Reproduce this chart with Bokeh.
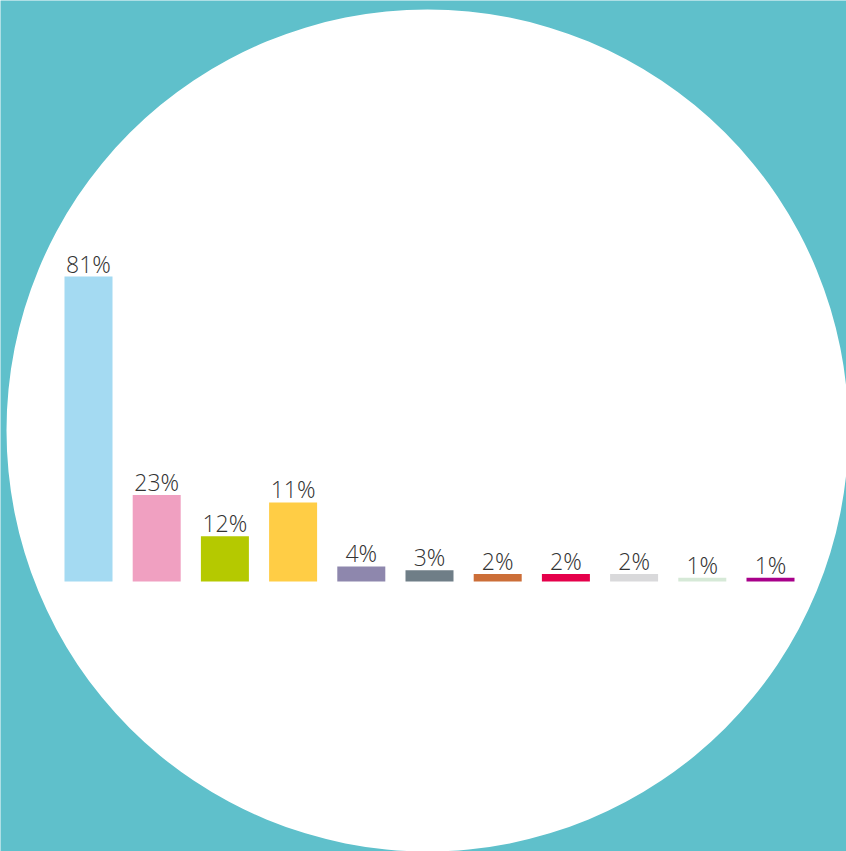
from bokeh.plotting import figure
from bokeh.embed import file_html
from bokeh.resources import INLINE
from bokeh.models import ColumnDataSource, Range1d
from bokeh.core.properties import value

# Data
positions = list(range(11))
bar_values = [81, 23, 12, 21, 4, 3, 2, 2, 2, 1, 1]
bar_labels = ["81%", "23%", "12%", "11%", "4%", "3%", "2%", "2%", "2%", "1%", "1%"]
bar_colors = ["#A4DAF2", "#F0A0C1", "#B5C900", "#FFCD45", "#8E87AD", "#6F7E87",
              "#CC6E38", "#E5004B", "#D9D9DB", "#D6E9D7", "#A8008A"]

W, H = 846, 851
PX_PER_BAR = 68.2
PX_PER_PCT = 3.765
X0_PX = 88.0     # pixel of first bar centre
Y0_PX = 581.0    # pixel of baseline

x_start = (0 - X0_PX) / PX_PER_BAR
x_end = (W - X0_PX) / PX_PER_BAR
y_start = (Y0_PX - H) / PX_PER_PCT
y_end = Y0_PX / PX_PER_PCT

p = figure(width=W, height=H, output_backend="svg", toolbar_location=None,
           x_range=Range1d(x_start, x_end), y_range=Range1d(y_start, y_end),
           min_border=0, background_fill_color="#5FC0CB", border_fill_color="#5FC0CB")
p.axis.visible = False
p.grid.visible = False
p.outline_line_color = None

# White background circle
cx = (427 - X0_PX) / PX_PER_BAR
cy = (Y0_PX - 430) / PX_PER_PCT
p.scatter(x=[cx], y=[cy], size=842, marker="circle", fill_color="white", line_color=None)

src = ColumnDataSource(dict(x=positions, top=bar_values, label=bar_labels, color=bar_colors))
p.vbar(x="x", top="top", bottom=0, width=48 / PX_PER_BAR, fill_color="color",
       line_color=None, source=src)
p.text(x="x", y="top", text="label", source=src, text_align="center",
       text_baseline="alphabetic", y_offset=-13, text_font_size="23px",
       text_font=value("'Open Sans Light', 'Open Sans'"), text_color="#333333")

open("out.html", "w").write(file_html(p, INLINE))
